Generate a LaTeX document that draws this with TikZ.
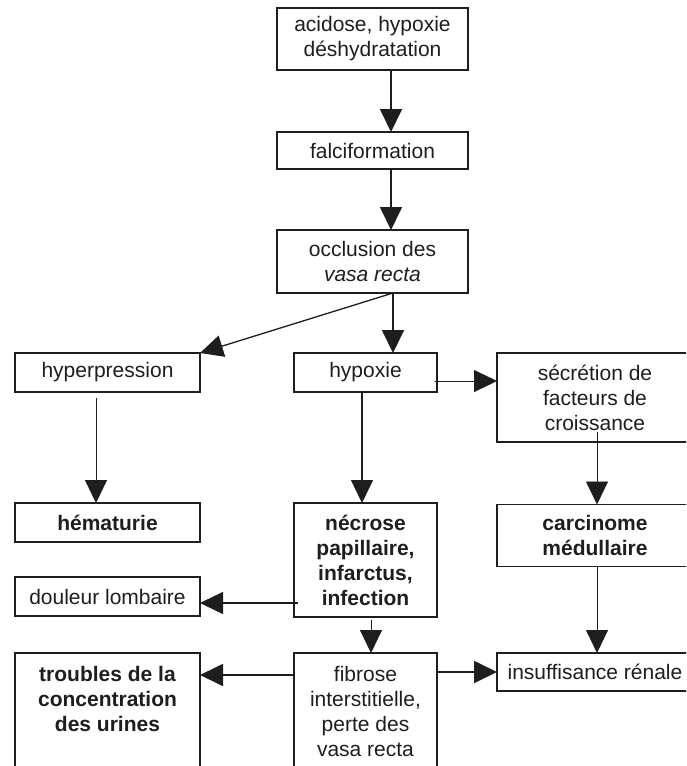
\documentclass[tikz,border=0pt]{standalone}
\usepackage{fontspec}
\setmainfont{Liberation Sans}
\usetikzlibrary{arrows.meta}
\definecolor{ink}{HTML}{1E1E1E}
\begin{document}
\begin{tikzpicture}[x=1pt,y=-1pt,
  box/.style={draw=ink, line width=1.6pt, inner sep=0pt, outer sep=0pt, align=center,
    font=\fontsize{21}{25}\selectfont, text=ink},
  bbox/.style={box, font=\fontsize{21}{25}\selectfont\bfseries},
  txt/.style={inner sep=0pt, align=center, font=\fontsize{21}{25}\selectfont, text=ink},
  arr/.style={-{Triangle[length=23pt,width=22pt]}, line width=1.8pt, draw=ink, fill=ink},
  tarr/.style={arr, line width=0.9pt},
]
\useasboundingbox (0,0) rectangle (686,766);
\clip (0,0) rectangle (686,766);
\fill[white] (0,0) rectangle (686,766);

\node[box, minimum width=191pt, minimum height=62pt] (acid) at (372.5,39) {acidose, hypoxie\\déshydratation};
\node[box, minimum width=191pt, minimum height=37pt] (falc) at (372.5,150.5) {falciformation};
\node[box, minimum width=191pt, minimum height=63pt] (occ) at (372.5,261.5) {occlusion des\\\textit{vasa recta}};
\node[box, minimum width=185pt, minimum height=39pt] (hyper) at (107.5,372.5) {hyperpression};
\node[box, minimum width=143pt, minimum height=39pt] (hyp) at (365.5,372.5) {hypoxie};
\node[box, minimum width=196pt, minimum height=89pt] (secr) at (595,397.5) {sécrétion de\\facteurs de\\croissance};
\node[bbox, minimum width=185pt, minimum height=39pt] (hema) at (107.5,522.5) {hématurie};
\node[bbox, minimum width=143pt, minimum height=114pt] (necr) at (365.5,560) {nécrose\\papillaire,\\infarctus,\\infection};
\node[bbox, minimum width=196pt, minimum height=62pt] (carc) at (595,535.5) {carcinome\\médullaire};
\node[box, minimum width=185pt, minimum height=39pt] (doul) at (107.5,596.5) {douleur lombaire};
\node[box, minimum width=185pt, minimum height=140pt] (troub) at (107.5,723) {};
\node[txt, font=\fontsize{21}{25}\selectfont\bfseries] (troubt) at (107.5,699) {troubles de la\\concentration\\des urines};
\node[box, minimum width=143pt, minimum height=140pt] (fibr) at (365.5,723) {};
\node[txt] (fibrt) at (365.5,711.5) {fibrose\\interstitielle,\\perte des\\vasa recta};
\node[box, minimum width=196pt, minimum height=38pt] (insuf) at (595,672) {insuffisance rénale};

\draw[arr] ([xshift=18.5pt]acid.south) coordinate (a1) -- (a1 |- falc.north);
\draw[arr] ([xshift=18.5pt]falc.south) coordinate (a2) -- (a2 |- occ.north);
\draw[arr] ([xshift=20.5pt]occ.south) coordinate (a3) -- (a3 |- hyp.north);
\draw[arr, line width=1.3pt] (a3) -- (hyper.north east);
\draw[tarr] ([xshift=-11.5pt,yshift=-6pt]hyper.south) coordinate (a4) -- (a4 |- hema.north);
\draw[tarr] ([xshift=-2pt,yshift=-8.5pt]hyp.east) coordinate (a5) -- (a5 -| secr.west);
\draw[arr, line width=1.4pt] ([xshift=-3.5pt]hyp.south) coordinate (a6) -- (a6 |- necr.north);
\draw[tarr] ([xshift=2pt,yshift=10pt]secr.south) coordinate (a7) -- (a7 |- carc.north);
\path (necr.west |- doul.east) coordinate (p8);
\draw[arr, line width=1.4pt] ([xshift=4pt,yshift=-6.5pt]p8) coordinate (a8) -- (a8 -| doul.east);
\draw[tarr] ([xshift=5.5pt,yshift=-3pt]necr.south) coordinate (a9) -- (a9 |- fibr.north);
\draw[arr] ([yshift=-22pt]fibr.north west) coordinate (a10) -- (a10 -| troub.east);
\draw[arr] (fibr.east |- insuf.west) -- (insuf.west);
\draw[tarr] ([xshift=2pt]carc.south) coordinate (a12) -- (a12 |- insuf.north);
\end{tikzpicture}
\end{document}
